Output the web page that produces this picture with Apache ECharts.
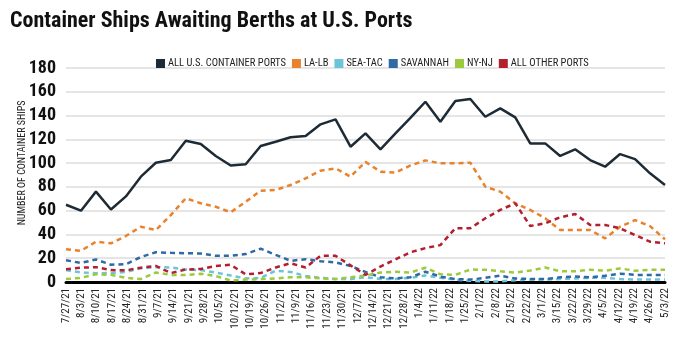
<!DOCTYPE html>
<html>
<head>
<meta charset="utf-8">
<script src="https://cdn.jsdelivr.net/npm/echarts@6/dist/echarts.min.js"></script>
<style>
html,body{margin:0;padding:0;background:#fff;}
#c{width:684px;height:342px;}
</style>
</head>
<body>
<div id="c"></div>
<script>
// Weekly observation dates (data categories, 41 weeks)
const weeks = ['7/27/21','8/3/21','8/10/21','8/17/21','8/24/21','8/31/21','9/7/21','9/14/21','9/21/21','9/28/21','10/5/21','10/12/21','10/19/21','10/26/21','11/2/21','11/9/21','11/16/21','11/23/21','11/30/21','12/7/21','12/14/21','12/21/21','12/28/21','1/4/22','1/11/22','1/18/22','1/25/22','2/1/22','2/8/22','2/15/22','2/22/22','3/1/22','3/8/22','3/15/22','3/22/22','3/29/22','4/5/22','4/12/22','4/19/22','4/26/22','5/3/22'];
// Tick labels printed under the axis (40 labels, as in the source chart)
const tickLabels = ['7/27/21','8/3/21','8/10/21','8/17/21','8/24/21','8/31/21','9/7/21','9/14/21','9/21/21','9/28/21','10/5/21','10/12/21','10/19/21','10/26/21','11/2/21','11/9/21','11/16/21','11/23/21','11/30/21','12/7/21','12/14/21','12/21/21','12/28/21','1/4/22','1/11/22','1/18/22','1/25/22','2/1/22','2/8/22','2/15/22','2/22/22','3/1/22','3/15/22','3/22/22','3/29/22','4/5/22','4/12/22','4/19/22','4/26/22','5/3/22'];
const yTicks = [0,20,40,60,80,100,120,140,160,180];

const allUS   = [65,60,76,61,72,88.6,100.3,102.6,118.8,116,106,98,99,114.4,118,121.7,122.8,132.6,136.8,113.8,125,111.6,125,138,151.6,134.8,152.2,153.9,139,146,138.5,116.6,116.6,106,111.6,102.6,97,107.6,103.4,91.4,81.6];
const laLb    = [27.5,26.3,33.9,32.5,38.7,46.5,43.7,56.3,70.4,66.2,63.3,58.6,67.5,76.8,77.4,81.6,87.2,93.6,95.6,88.6,101,92.8,92,98,102.3,99.8,99.8,100.3,80.2,76,66.2,60.6,53.6,43.7,43.7,43.7,36.7,46.5,52,47,35.9];
const seaTac  = [10,8,7.4,7.5,8.5,11.5,12.5,12.2,10.5,10,8,5.5,3,3.5,9.5,8.5,5,3.5,2.5,2.5,4,2.5,2.5,3.5,5.5,3.5,2,1,0.5,0.5,1.5,2,2,2.5,3,3.5,3.5,2.5,2,2,2];
const savannah= [18.3,16,19,14.5,15,21,25,24.5,24.2,24,22,22,23.5,28,22.8,17.8,19.2,17.5,16.5,13.5,8.5,4,3,4,8.6,4.5,2.5,2,3.5,5.3,3,2.5,2.5,3.9,4.7,4,5.3,7,6,5.8,5.8];
const nyNj    = [2.5,3.5,6.5,6,3.5,2.5,8,6,5.8,7,5,1.3,2,2.5,3,3.9,3.9,3,2.5,3.9,5.5,8,8.6,8,12,6.5,6,10.5,10.3,9,8,9.6,12.2,9,9,10.3,9.5,11.4,9.5,10.3,10.3];
const others  = [10.8,12,12.5,10,9.8,12,13.5,7.5,10.5,11,13.5,14.5,6.4,7.5,12.2,15.8,12.2,22,22,14,6,13,19,25,28.5,31,45.2,45.2,53.6,60.6,66.2,47.1,49.4,54.4,57.2,48,48,45.2,39.5,33.9,32.5];

const FONT = "'Liberation Sans Narrow', 'Roboto Condensed', 'DejaVu Sans Condensed', sans-serif";
const colors = {
  all:'#1d2b36', la:'#e8822c', sea:'#6cc4d9', sav:'#2f69a6', ny:'#9cca3c', oth:'#b41f30'
};
function dashed(name, data, color, z){
  return {name, type:'line', data, xAxisIndex:0, symbol:'none', smooth:false, z:z||2,
    lineStyle:{color, width:2.5, type:[5,4]}, itemStyle:{color}};
}
const chart = echarts.init(document.getElementById('c'), null, {renderer:'canvas'});
chart.setOption({
  animation:false,
  backgroundColor:'#fff',
  grid:{left:66, right:19, top:68, bottom:60, containLabel:false},
  legend:{
    data:['ALL U.S. CONTAINER PORTS','LA-LB','SEA-TAC','SAVANNAH','NY-NJ','ALL OTHER PORTS'],
    top:53, left:151, icon:'rect', itemWidth:9, itemHeight:9, itemGap:6,
    textStyle:{fontFamily:FONT, fontSize:10.5, color:'#222', padding:[0,0,0,-2]}
  },
  graphic:[
    {type:'text', left:10, top:10, style:{text:'Container Ships Awaiting Berths at U.S. Ports', font:"bold 22px "+FONT, fill:'#111'}},
    {type:'text', x:22, y:163, rotation:Math.PI/2, style:{text:'NUMBER OF CONTAINER SHIPS', font:"10px "+FONT, fill:'#222', align:'center', verticalAlign:'middle'}}
  ],
  xAxis:[
    {type:'category', data:weeks, boundaryGap:false, position:'bottom',
     axisLine:{show:true, lineStyle:{color:'#000', width:3}}, axisTick:{show:false}, axisLabel:{show:false}, splitLine:{show:false}},
    {type:'category', data:tickLabels, boundaryGap:false, position:'bottom', offset:0,
     axisLine:{show:false}, axisTick:{show:false}, splitLine:{show:false},
     axisLabel:{show:true, interval:0, rotate:90, margin:6, fontFamily:FONT, fontSize:11, color:'#222'}}
  ],
  yAxis:{type:'value', min:0, max:180, interval:20,
    axisLine:{show:false}, axisTick:{show:false},
    splitLine:{lineStyle:{color:'#dcdcdc', width:1.5}},
    axisLabel:{margin:10, fontFamily:FONT, fontSize:18, fontWeight:'bold', color:'#111',
      formatter:v=> yTicks.includes(v) ? String(v) : ''}
  },
  series:[
    dashed('LA-LB', laLb, colors.la, 3),
    dashed('SEA-TAC', seaTac, colors.sea, 3),
    dashed('SAVANNAH', savannah, colors.sav, 3),
    dashed('NY-NJ', nyNj, colors.ny, 3),
    dashed('ALL OTHER PORTS', others, colors.oth, 4),
    {name:'ALL U.S. CONTAINER PORTS', type:'line', data:allUS, xAxisIndex:0, symbol:'none', z:5,
     lineStyle:{color:colors.all, width:2.5}, itemStyle:{color:colors.all}},
    {name:'_labels', type:'line', data:[], xAxisIndex:1, silent:true}
  ]
});
</script>
</body>
</html>
